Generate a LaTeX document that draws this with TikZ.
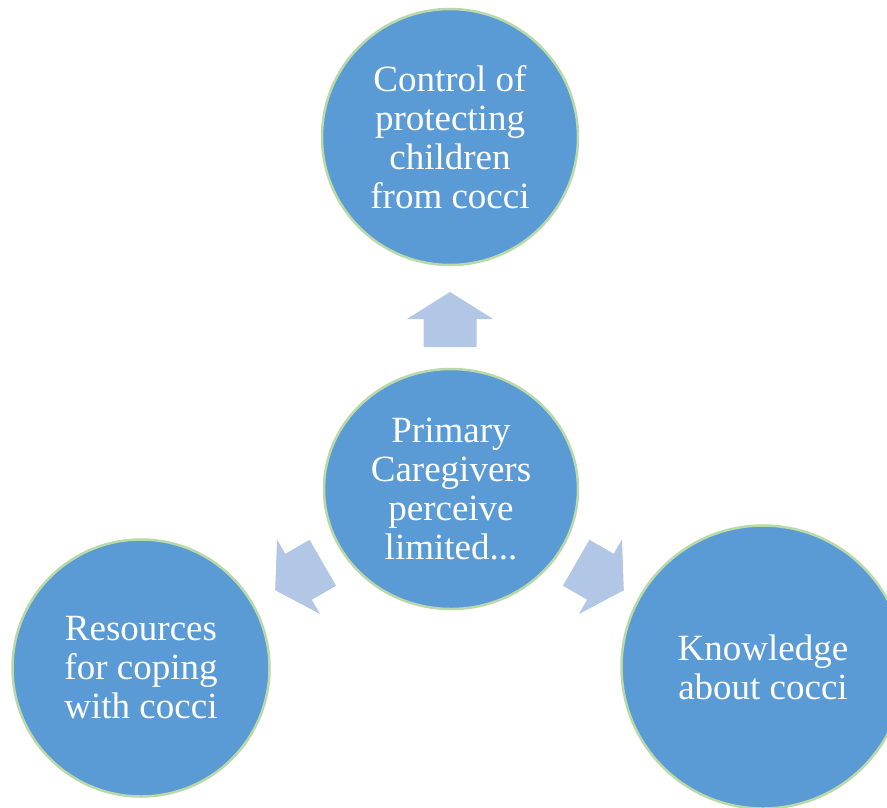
\documentclass[tikz,border=0pt]{standalone}
\usepackage{fontspec}
\setmainfont{Liberation Serif}
\usetikzlibrary{shapes.geometric}
\definecolor{circfill}{RGB}{91,155,213}
\definecolor{circline}{RGB}{185,218,168}
\definecolor{arrfill}{RGB}{178,198,230}
\tikzset{
  bubble/.style={circle, fill=circfill, draw=circline, line width=2.5pt,
    inner sep=0pt, text=white, align=center,
    font=\fontsize{37}{39}\selectfont},
  oval/.style={ellipse, fill=circfill, draw=circline, line width=2.5pt,
    inner sep=0pt, text=white, align=center,
    font=\fontsize{37}{39}\selectfont},
  blockarrow/.pic={
    \fill[arrfill] (-27.5,-26.5) -- (0.5,-26.5) -- (0.5,-43) -- (27.5,0)
      -- (0.5,43) -- (0.5,26.5) -- (-27.5,26.5) -- cycle;
  }
}
\begin{document}
\begin{tikzpicture}[x=1pt,y=-1pt]
\useasboundingbox (0,0) rectangle (887,807);
\clip (0,0) rectangle (887,807);
\fill[white] (0,0) rectangle (887,807);

\node[bubble, minimum size=256pt] (top) at (450,137)
  {Control of\\protecting\\children\\from cocci};
\node[oval, minimum width=254pt, minimum height=240pt] (mid) at (451,489)
  {Primary\\Caregivers\\perceive\\limited...};
\node[bubble, minimum size=257pt] (left) at (141,668)
  {Resources\\for coping\\with cocci};
\node[bubble, minimum size=283pt] (right) at (763,667)
  {Knowledge\\about cocci};

\coordinate (arrU) at (450,319.5);
\coordinate (arrL) at (299,576.5);
\coordinate (arrR) at (600,576.5);
\pic[rotate=90] at (arrU) {blockarrow};
\pic[rotate=210] at (arrL) {blockarrow};
\pic[rotate=-30] at (arrR) {blockarrow};
\end{tikzpicture}
\end{document}
